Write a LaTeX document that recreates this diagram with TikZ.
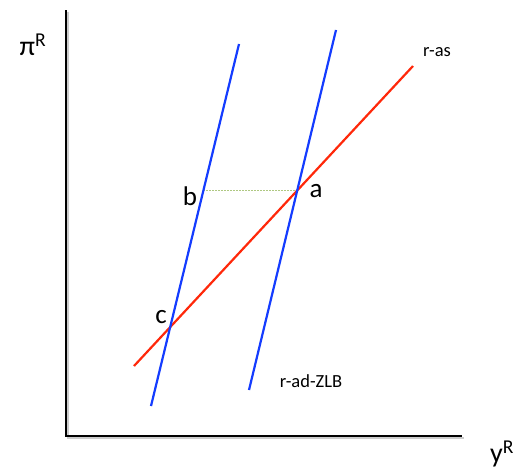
\documentclass[tikz,border=0pt]{standalone}
\usepackage{fontspec}
\setmainfont{Carlito}
\usetikzlibrary{intersections}
\definecolor{lineblue}{RGB}{20,60,255}
\definecolor{linered}{RGB}{255,40,10}
\definecolor{guide}{RGB}{175,200,130}
\definecolor{shadow}{RGB}{170,170,170}
\tikzset{
  axisline/.style={line width=2pt, black},
  axisshadow/.style={line width=2pt, shadow, opacity=0.6},
  adline/.style={line width=2.2pt, lineblue},
  asline/.style={line width=2.2pt, linered},
  guideline/.style={line width=1.4pt, guide, dashed, dash pattern=on 2pt off 1pt},
  ptlabel/.style={font=\fontsize{27}{30}\selectfont, inner sep=0pt},
  curvelabel/.style={font=\fontsize{18.5}{22}\selectfont, inner sep=0pt},
  axislabel/.style={font=\fontsize{28}{30}\selectfont, inner sep=0pt}
}
\begin{document}
\begin{tikzpicture}[x=1pt,y=-1pt]
\useasboundingbox (0,0) rectangle (518,471);
% axes
\coordinate (top) at (66,10);
\coordinate (origin) at (66,436);
\coordinate (right) at (462,436);
\draw[axisshadow] ([shift={(1.5,1.5)}]top) -- ([shift={(1.5,1.5)}]origin) -- ([shift={(1.5,1.5)}]right);
\draw[axisline] (top) -- (origin) -- (right);
% curves
\coordinate (ad1s) at (151,406);
\coordinate (ad1e) at (239,44);
\coordinate (ad2s) at (249,390);
\coordinate (ad2e) at (336,30);
\coordinate (ass) at (134,366);
\coordinate (ase) at (413,66);
\path[name path=ad1] (ad1s) -- (ad1e);
\path[name path=ad2] (ad2s) -- (ad2e);
\path[name path=as] (ass) -- (ase);
\path[name intersections={of=as and ad2, by=a}];
\path[name intersections={of=as and ad1, by=c}];
\path[name path=hor] ([xshift=-200pt]a) -- (a);
\path[name intersections={of=hor and ad1, by=b}];
\draw[guideline] (b) -- (a);
\draw[asline] (ass) -- (ase);
\draw[adline] (ad1s) -- (ad1e);
\draw[adline] (ad2s) -- (ad2e);
% labels
\node[ptlabel] (la) at (316,191) {a};
\node[ptlabel] (lb) at (190,196) {b};
\node[ptlabel] (lc) at (161,317) {c};
\node[curvelabel] (las) at (437,52) {r-as};
\node[curvelabel] (lad) at (311,381) {r-ad-ZLB};
\node[axislabel] (lpi) at (33,45) {π\textsuperscript{R}};
\node[axislabel] (ly) at (502,454) {y\textsuperscript{R}};
\end{tikzpicture}
\end{document}
